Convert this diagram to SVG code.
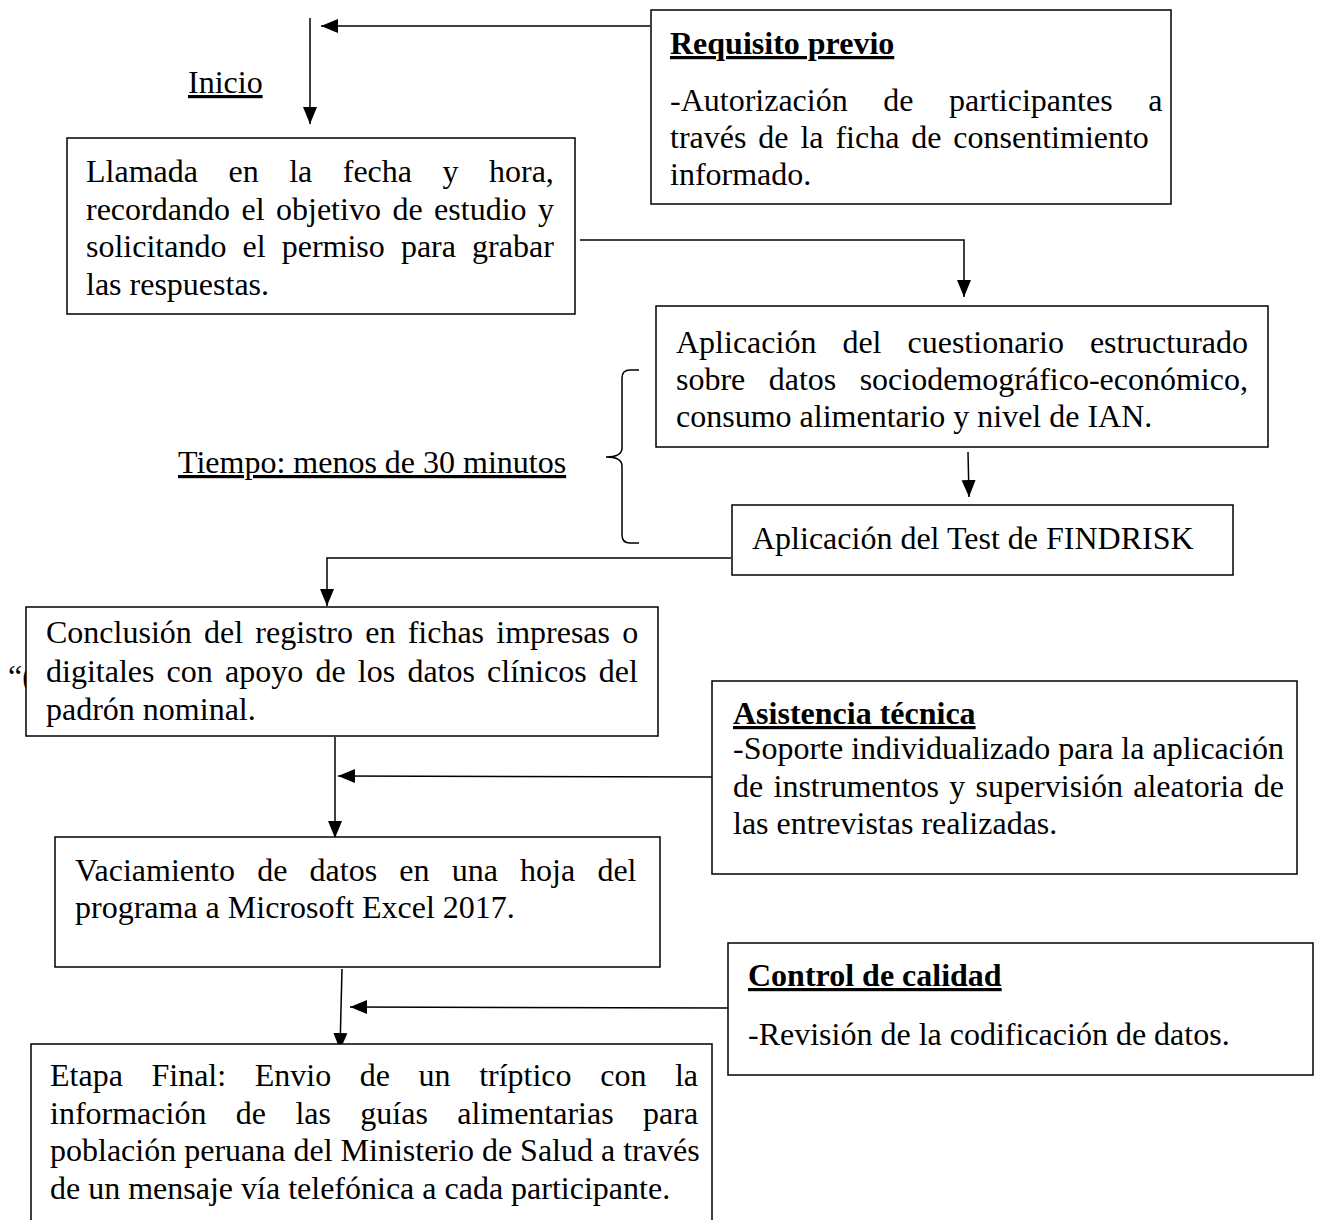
<svg xmlns="http://www.w3.org/2000/svg" width="1321" height="1220" viewBox="0 0 1321 1220">
<defs>
<style>
.box{fill:#fff;stroke:#000;stroke-width:1.5}
.ln{fill:none;stroke:#000;stroke-width:1.5}
text{font-family:"Liberation Serif","Times New Roman",serif;font-size:32px;fill:#000}
.t{font-weight:bold;text-decoration:underline}
.u{text-decoration:underline}
</style>
<marker id="ah" markerUnits="userSpaceOnUse" markerWidth="18" markerHeight="16" viewBox="0 0 18 16" refX="17" refY="8" orient="auto">
<path d="M0,1 L17,8 L0,15 Z" fill="#000"/>
</marker>
</defs>
<rect width="1321" height="1220" fill="#fff"/>

<g id="connectors">
<line class="ln" x1="650" y1="26" x2="321" y2="26" marker-end="url(#ah)"/>
<line class="ln" x1="310" y1="18" x2="310" y2="124" marker-end="url(#ah)"/>
<polyline class="ln" points="580,240 964,240 964,297" marker-end="url(#ah)"/>
<line class="ln" x1="968" y1="452" x2="969" y2="497" marker-end="url(#ah)"/>
<polyline class="ln" points="731,558 327,558 327,606" marker-end="url(#ah)"/>
<line class="ln" x1="335" y1="737" x2="335" y2="838" marker-end="url(#ah)"/>
<line class="ln" x1="712" y1="777" x2="338" y2="776" marker-end="url(#ah)"/>
<line class="ln" x1="342" y1="969" x2="340" y2="1050" marker-end="url(#ah)"/>
<line class="ln" x1="728" y1="1008" x2="350" y2="1007" marker-end="url(#ah)"/>
<path class="ln" d="M639,370 L630,370 Q622,370 622,378 L622,448 Q622,457 606,457 Q622,457 622,466 L622,535 Q622,543 630,543 L639,543"/>
</g>

<g id="inicio">
<text class="u" x="188" y="93">Inicio</text>
</g>

<g id="tiempo">
<text class="u" x="178" y="473">Tiempo: menos de 30 minutos</text>
</g>

<g id="quote">
<text x="8" y="687">“(</text>
</g>

<g id="requisito">
<rect class="box" x="651" y="10" width="520" height="194"/>
<text class="t" x="670" y="54">Requisito previo</text>
<text x="670" y="111" word-spacing="27.6">-Autorización de participantes a</text>
<text x="670" y="148" word-spacing="3.9">través de la ficha de consentimiento</text>
<text x="670" y="185">informado.</text>
</g>

<g id="llamada">
<rect class="box" x="67" y="138" width="508" height="176"/>
<text x="86" y="182" word-spacing="22.5">Llamada en la fecha y hora,</text>
<text x="86" y="220" word-spacing="3.5">recordando el objetivo de estudio y</text>
<text x="86" y="257" word-spacing="8.1">solicitando el permiso para grabar</text>
<text x="86" y="295">las respuestas.</text>
</g>

<g id="cuestionario">
<rect class="box" x="656" y="306" width="612" height="141"/>
<text x="676" y="353" word-spacing="18">Aplicación del cuestionario estructurado</text>
<text x="676" y="390" word-spacing="15.4">sobre datos sociodemográfico-económico,</text>
<text x="676" y="427">consumo alimentario y nivel de IAN.</text>
</g>

<g id="findrisk">
<rect class="box" x="732" y="505" width="501" height="70"/>
<text x="752" y="549">Aplicación del Test de FINDRISK</text>
</g>

<g id="conclusion">
<rect class="box" x="26" y="607" width="632" height="129"/>
<text x="46" y="643" word-spacing="4.2">Conclusión del registro en fichas impresas o</text>
<text x="46" y="682" word-spacing="4.2">digitales con apoyo de los datos clínicos del</text>
<text x="46" y="720">padrón nominal.</text>
</g>

<g id="asistencia">
<rect class="box" x="712" y="681" width="585" height="193"/>
<text class="t" x="733" y="724">Asistencia técnica</text>
<text x="733" y="759">-Soporte individualizado para la aplicación</text>
<text x="733" y="797" word-spacing="2.3">de instrumentos y supervisión aleatoria de</text>
<text x="733" y="834">las entrevistas realizadas.</text>
</g>

<g id="vaciamiento">
<rect class="box" x="55" y="837" width="605" height="130"/>
<text x="75" y="881" word-spacing="14.2">Vaciamiento de datos en una hoja del</text>
<text x="75" y="918">programa a Microsoft Excel 2017.</text>
</g>

<g id="control">
<rect class="box" x="728" y="943" width="585" height="132"/>
<text class="t" x="748" y="986">Control de calidad</text>
<text x="748" y="1045">-Revisión de la codificación de datos.</text>
</g>

<g id="etapa">
<rect class="box" x="31" y="1044" width="681" height="200"/>
<text x="50" y="1086" word-spacing="20.6">Etapa Final: Envio de un tríptico con la</text>
<text x="50" y="1124" word-spacing="21.4">información de las guías alimentarias para</text>
<text x="50" y="1161">población peruana del Ministerio de Salud a través</text>
<text x="50" y="1199">de un mensaje vía telefónica a cada participante.</text>
</g>
</svg>
